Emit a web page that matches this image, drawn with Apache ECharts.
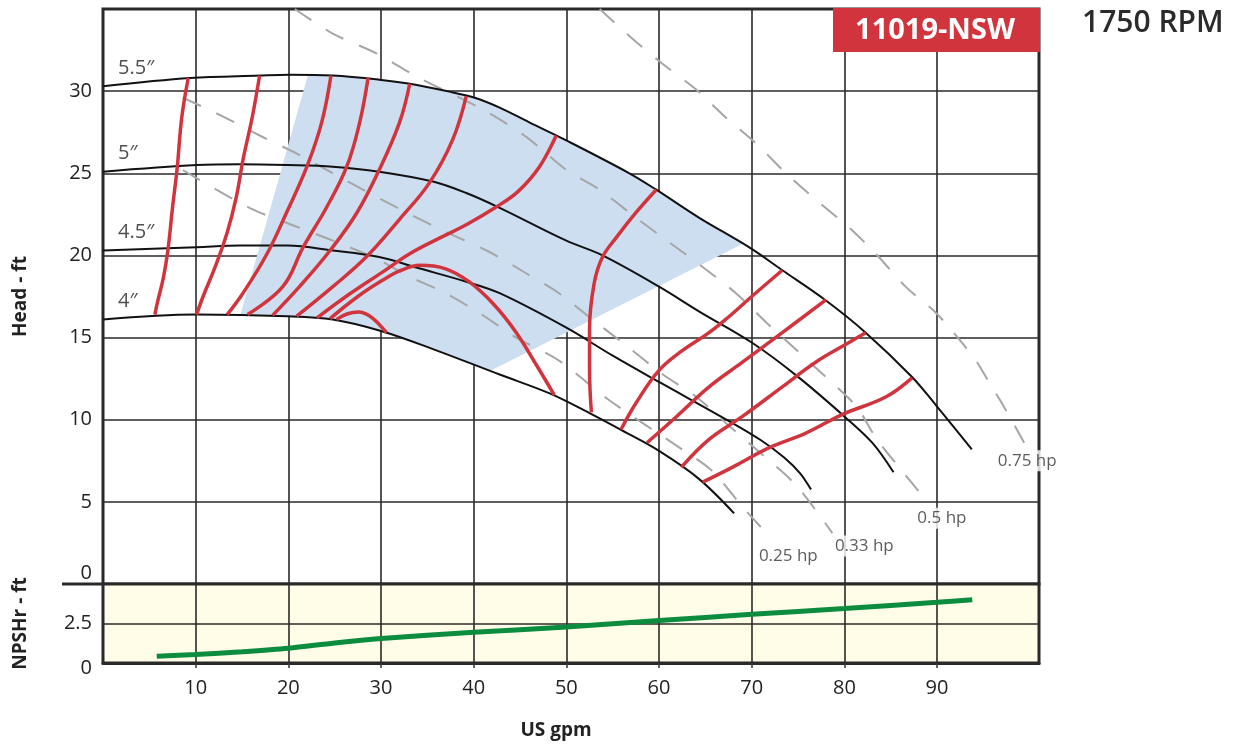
<!DOCTYPE html>
<html><head><meta charset="utf-8">
<script src="https://cdn.jsdelivr.net/npm/echarts@6/dist/echarts.min.js"></script>
<style>html,body{margin:0;padding:0;background:#fff}#c{width:1247px;height:747px}</style>
</head><body><div id="c"></div>
<script>
// ---------- data ----------
const xTicks = [0,10,20,30,40,50,60,70,80,90];
const xLabelTicks = [10,20,30,40,50,60,70,80,90];
const headTicks = [0,5,10,15,20,25,30];
const npshTicks = [0,2.5];

const sizeNames = ['5.5\u2033','5\u2033','4.5\u2033','4\u2033'];
const imp55 = [[0,30.3],[9.4,30.8],[16.9,30.95],[20.1,31.0],[24.8,30.95],[29.8,30.7],[33.1,30.45],[37.1,30.0],[40.1,29.6],[42.8,29.0],[46,28.1],[50,27.0],[56.8,25.0],[59.7,24.0],[64.3,22.3],[69.7,20.5],[73.3,19.1],[77.9,17.3],[82.3,15.3],[87.3,12.6],[90.0,10.8],[93.75,8.2]];
const imp50 = [[0,25.1],[10.1,25.5],[14.8,25.55],[19.9,25.5],[24.8,25.4],[29.8,25.1],[35.6,24.5],[39.2,23.8],[42.8,22.9],[50,20.9],[53.9,20.0],[60,18.1],[64.3,16.6],[70,14.7],[74.8,12.7],[80,10.2],[83,8.6],[85.3,6.8]];
const imp45 = [[0,20.3],[10.1,20.5],[14.8,20.6],[19.9,20.6],[24.8,20.3],[29.8,19.9],[34.2,19.2],[39.2,18.4],[42.8,17.7],[50,15.6],[55,13.9],[60,12.3],[67.6,9.9],[71,8.75],[73.5,7.7],[75.2,6.75],[76.4,5.75]];
const imp40 = [[0,16.1],[10,16.4],[19.9,16.3],[24.8,16.1],[30,15.4],[35.6,14.3],[42.8,12.75],[48.2,11.6],[52.5,10.4],[56,9.35],[60,8.1],[64.3,6.4],[68.1,4.3]];

const hpNames = ['0.25 hp','0.33 hp','0.5 hp','0.75 hp'];
const hp025 = [[8.6,25.2],[15.8,22.9],[20.2,21.9],[24.8,20.9],[29.5,19.8],[33.1,18.7],[36.6,17.8],[40.6,16.5],[44.6,15.0],[49.2,13.6],[54.6,11.2],[62.2,8.3],[65.7,6.9],[69.0,4.7],[71.9,2.9]];
const hp033 = [[8.6,29.6],[12.8,28.5],[16.9,27.3],[20.9,26.2],[24.8,25.0],[28.4,23.9],[32.8,22.6],[37.1,21.4],[41.4,20.3],[45.7,18.9],[49.2,17.7],[52.8,16.1],[56.5,14.5],[60.3,12.8],[64.0,11.4],[67.6,9.6],[71.1,7.9],[74.8,6.0],[78.7,3.1]];
const hp050 = [[20.7,35.0],[24.8,33.5],[29.5,32.3],[33.8,30.9],[40.9,28.9],[45.7,27.2],[50.0,25.2],[53.6,24.0],[57.5,22.3],[61.1,20.8],[64.7,19.3],[68.3,17.7],[71.6,15.9],[75.1,14.1],[78.0,12.6],[81.3,10.8],[83.4,8.9],[86.2,6.9],[88.8,5.1]];
const hp075 = [[53.6,35.0],[57.1,33.2],[60.3,31.7],[64.0,30.1],[67.2,28.4],[70.5,26.8],[73.7,25.0],[77.3,23.2],[80.5,21.7],[83.4,20.1],[86.6,18.1],[89.9,16.5],[93.1,14.4],[94.2,13.6],[95.9,12.0],[97.0,11.0],[99.4,8.6]];

const eff1 = [[5.6,16.4],[5.9,17.2],[6.5,18.6],[7.0,20.3],[7.5,22.9],[8.0,25.3],[8.5,28.4],[9.2,30.8]];
const eff2 = [[10.1,16.4],[10.8,17.5],[12.1,19.3],[13.4,21.4],[14.4,23.6],[15.1,25.8],[16.1,28.4],[16.9,30.95]];
const eff3 = [[13.4,16.4],[15.1,17.7],[17.7,20.1],[19.8,22.6],[22.0,25.4],[23.6,28.1],[24.6,30.95]];
const eff4 = [[15.6,16.4],[19.4,18.1],[21.6,20.5],[24.1,22.9],[26.3,25.4],[27.7,28.1],[28.6,30.8]];
const eff5 = [[18.3,16.35],[21.2,18.1],[24.5,20.3],[27.4,22.6],[29.8,25.2],[32.0,28.1],[33.1,30.45]];
const eff6 = [[20.9,16.3],[24.8,18.1],[28.4,19.9],[32.0,22.2],[35.2,24.4],[37.7,27.0],[39.2,29.7]];
const eff7 = [[23.1,16.2],[26.6,17.65],[30.2,19.0],[33.1,20.1],[36.3,21.05],[39.3,21.9],[42.3,22.9],[44.8,23.9],[47.1,25.4],[48.9,27.3]];
const eff8 = [[24.5,16.15],[27.5,17.5],[30.2,18.5],[32.2,19.1],[34.2,19.4],[36.9,19.2],[39.5,18.4],[42.2,17.0],[44.6,15.3],[46.8,13.3],[48.7,11.5]];
const eff9 = [[25.2,16.1],[26.4,16.45],[27.6,16.55],[28.8,16.3],[29.8,15.8],[30.6,15.3]];
const eff10 = [[52.7,10.45],[52.5,13.0],[52.5,15.5],[53.0,18.3],[53.9,19.9],[55.4,21.1],[57.5,22.6],[59.7,24.0]];
const eff11 = [[55.9,9.4],[57.5,11.0],[60.0,13.0],[62.5,14.2],[65.4,15.3],[67.6,16.3],[70.0,17.5],[73.3,19.1]];
const eff12 = [[58.7,8.6],[61.9,10.2],[65.4,12.0],[69.0,13.5],[73.3,15.3],[78.0,17.3]];
const eff13 = [[62.4,7.1],[65.4,8.8],[69.0,10.2],[73.3,12.0],[76.9,13.5],[80.5,14.7],[82.3,15.3]];
const eff14 = [[64.7,6.2],[67.9,7.1],[71.9,8.3],[75.9,9.2],[79.7,10.3],[84.5,11.4],[87.3,12.55]];

// corners of the preferred operating region (blue): bottom-left, top-left, top-right, bottom-right
const bestRegionCorners = [[14.8,16.35],[22.1,30.95],[69.0,20.7],[41.7,12.95]];

const npsh = [[5.8,0.43],[10,0.54],[15,0.71],[20,0.93],[25,1.27],[30,1.55],[40,1.94],[50,2.28],[60,2.69],[70,3.08],[80,3.45],[90,3.84],[93.8,4.0]];

// ---------- styling (not data) ----------
const FONT = '"Open Sans", "Noto Sans", sans-serif';
const RED = '#d0353e';
const hpLabelOffsets = [[19,20],[32,13],[16,18],[3,18]];

// build blue region polygon from the curves
const bestRegion = [bestRegionCorners[0], bestRegionCorners[1]]
  .concat(imp55.filter(p => p[0] > bestRegionCorners[1][0] && p[0] < bestRegionCorners[2][0]))
  .concat([bestRegionCorners[2], bestRegionCorners[3]])
  .concat(imp40.filter(p => p[0] > bestRegionCorners[0][0] && p[0] < bestRegionCorners[3][0]).reverse());

const impellers = [imp55, imp50, imp45, imp40];
const hps = [hp025, hp033, hp050, hp075];
const effs = [eff1,eff2,eff3,eff4,eff5,eff6,eff7,eff8,eff9,eff10,eff11,eff12,eff13,eff14];

const series = [];
series.push({
  type:'custom', xAxisIndex:0, yAxisIndex:0, z:1, silent:true,
  data:[0],
  renderItem:(params, api) => ({
    type:'polygon',
    shape:{points: bestRegion.map(p => api.coord(p))},
    style:{fill:'#cddef0'}
  })
});
hps.forEach((d,i) => series.push({
  type:'line', xAxisIndex:0, yAxisIndex:0, data:d, symbol:'none', smooth:0.3, z:3,
  lineStyle:{color:'#a6a6a6', width:2, type:[20,17]}
}));
impellers.forEach(d => series.push({
  type:'line', xAxisIndex:0, yAxisIndex:0, data:d, symbol:'none', smooth:0.35, z:4,
  lineStyle:{color:'#111', width:2}
}));
effs.forEach(d => series.push({
  type:'line', xAxisIndex:0, yAxisIndex:0, data:d, symbol:'none', smooth:0.4, z:5,
  lineStyle:{color:RED, width:3.5}
}));
// impeller size labels (anchored at the start of each curve)
series.push({
  type:'scatter', xAxisIndex:0, yAxisIndex:0, symbolSize:0, z:6, silent:true,
  data: impellers.map(d => d[0]),
  label:{show:true, position:'right', distance:0, offset:[15,-18],
    formatter: p => sizeNames[p.dataIndex],
    fontSize:20, color:'#222', fontFamily:FONT}
});
// hp labels (anchored at the end of each hp line)
series.push({
  type:'scatter', xAxisIndex:0, yAxisIndex:0, symbolSize:0, z:6, silent:true,
  data: hps.map((d,i) => ({value:d[d.length-1], label:{offset:hpLabelOffsets[i]}})),
  label:{show:true, position:'inside', align:'center', verticalAlign:'middle',
    formatter: p => hpNames[p.dataIndex],
    fontSize:17, color:'#333', fontFamily:FONT, backgroundColor:'#fff', padding:[2,2]}
});
series.push({
  type:'line', xAxisIndex:1, yAxisIndex:1, data:npsh, symbol:'none', smooth:0.3, z:5,
  lineStyle:{color:'#0b8c3e', width:5}
});

const gridLine = {show:true, lineStyle:{color:'#2a2a2a', width:1.6}};
const labelBase = {fontSize:20, color:'#222', fontFamily:FONT};

const option = {
  animation:false,
  backgroundColor:'#fff',
  grid:[
    {left:103, top:9, right:208, height:575, show:true, borderColor:'#2a2a2a', borderWidth:3, backgroundColor:'transparent', containLabel:false, outerBoundsMode:'none'},
    {left:103, top:584, right:208, height:79, show:true, borderColor:'#2a2a2a', borderWidth:3, backgroundColor:'#fffce8', containLabel:false, outerBoundsMode:'none'}
  ],
  xAxis:[
    {gridIndex:0, type:'value', min:0, max:101, interval:10,
      axisLine:{show:false}, axisLabel:{show:false},
      axisTick:{show:false, customValues:xTicks}, splitLine:gridLine},
    {gridIndex:1, type:'value', min:0, max:101, interval:10,
      axisLine:{show:true, lineStyle:{color:'#2a2a2a', width:3}},
      axisTick:{show:true, customValues:xLabelTicks, length:5, lineStyle:{color:'#333', width:1.5}},
      axisLabel:Object.assign({customValues:xLabelTicks, margin:15}, labelBase),
      splitLine:gridLine,
      name:'US gpm', nameLocation:'middle', nameGap:58,
      nameTextStyle:{fontWeight:'bold', fontSize:19, color:'#222', fontFamily:FONT, padding:[0,30,0,0]}}
  ],
  yAxis:[
    {gridIndex:0, type:'value', min:0, max:35, interval:5,
      axisLine:{show:false}, axisTick:{show:false},
      axisLabel:Object.assign({customValues:headTicks, margin:11,
        formatter: v => v === 0 ? '{z|0}' : String(v),
        rich:{z:Object.assign({padding:[0,0,22,0]}, labelBase)}}, labelBase),
      splitLine:gridLine,
      name:'Head - ft', nameLocation:'middle', nameGap:73, nameRotate:90,
      nameTextStyle:{fontWeight:'bold', fontSize:19, color:'#222', fontFamily:FONT}},
    {gridIndex:1, type:'value', min:0, max:5, interval:2.5,
      axisLine:{show:false}, axisTick:{show:false},
      axisLabel:Object.assign({customValues:npshTicks, margin:11,
        formatter: v => v === 0 ? '{z|0}' : String(v),
        rich:{z:Object.assign({padding:[10,0,0,0]}, labelBase)}}, labelBase),
      splitLine:gridLine,
      name:'NPSHr - ft', nameLocation:'middle', nameGap:73, nameRotate:90,
      nameTextStyle:{fontWeight:'bold', fontSize:19, color:'#222', fontFamily:FONT}}
  ],
  graphic:[
    {type:'line', z:100, shape:{x1:62, y1:584, x2:104, y2:584}, style:{stroke:'#2a2a2a', lineWidth:3}},
    {type:'rect', z:100, shape:{x:833, y:8, width:207, height:44}, style:{fill:'#d1343d'}},
    {type:'text', z:101, x:935, y:31, style:{text:'11019-NSW', fill:'#fff', fontSize:29, fontWeight:'bold', fontFamily:FONT, align:'center', verticalAlign:'middle'}},
    {type:'text', z:101, x:1082, y:23, style:{text:'1750 RPM', fill:'#2b2b2b', fontSize:30, fontWeight:600, fontFamily:FONT, align:'left', verticalAlign:'middle'}}
  ],
  series: series
};
echarts.init(document.getElementById('c')).setOption(option);
</script>
</body></html>
